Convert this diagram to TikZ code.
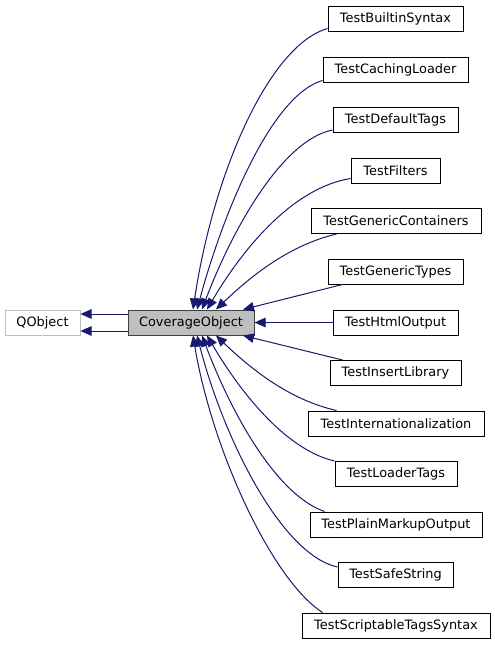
\documentclass[tikz,border=0pt]{standalone}
\usepackage{fontspec}
\setmainfont{DejaVu Sans}
\usetikzlibrary{arrows.meta}
\definecolor{edgecol}{HTML}{191970}
\definecolor{covfill}{HTML}{BFBFBF}
\definecolor{qborder}{HTML}{BFBFBF}
\definecolor{covborder}{HTML}{404040}
\begin{document}
\begin{tikzpicture}[x=1pt,y=-1pt,
  box/.style={draw=black,line width=1pt,fill=white,minimum height=25pt,inner sep=0pt,font=\fontsize{12.9}{15}\selectfont},
  edge/.style={draw=edgecol,line width=1pt,-{Triangle[length=11pt,width=9.5pt]}}]
\useasboundingbox[fill=white] (0,0) rectangle (495,645);
\node[box,draw=qborder,minimum width=75pt] (q) at (42.5,322.5) {QObject};
\node[box,draw=covborder,fill=covfill,minimum width=126pt] (cov) at (191,322.5) {CoverageObject};
\node[box,minimum width=135pt] (b1) at (395.5,18.5) {TestBuiltinSyntax};
\node[box,minimum width=145pt] (b2) at (395.5,69.5) {TestCachingLoader};
\node[box,minimum width=125pt] (b3) at (395.5,120) {TestDefaultTags};
\node[box,minimum width=89pt] (b4) at (395.5,170.5) {TestFilters};
\node[box,minimum width=170pt] (b5) at (396,221) {TestGenericContainers};
\node[box,minimum width=135pt] (b6) at (395.5,271.5) {TestGenericTypes};
\node[box,minimum width=125pt] (b7) at (395.5,322.5) {TestHtmlOutput};
\node[box,minimum width=131pt] (b8) at (395.5,373) {TestInsertLibrary};
\node[box,minimum width=176pt] (b9) at (396,423.5) {TestInternationalization};
\node[box,minimum width=122pt] (b10) at (396,474) {TestLoaderTags};
\node[box,minimum width=172pt] (b11) at (396,524.5) {TestPlainMarkupOutput};
\node[box,minimum width=115pt] (b12) at (395.5,575) {TestSafeString};
\node[box,minimum width=188pt] (b13) at (396,625.5) {TestScriptableTagsSyntax};
% QObject edges
\draw[edge] ([yshift=8.5pt]cov.west) -- ([yshift=8.5pt]q.east);
\draw[edge] ([yshift=-8.5pt]cov.west) -- ([yshift=-8.5pt]q.east);
% top curves
\draw[edge] ([yshift=3pt]b1.south west) .. controls (270,45) and (214,170) .. ([xshift=2pt]cov.north);
\draw[edge] ([yshift=2pt]b2.south west) .. controls (272,95) and (224,210) .. ([xshift=6pt]cov.north);
\draw[edge] ([yshift=3pt]b3.south west) .. controls (282,140) and (232,230) .. ([xshift=11pt]cov.north);
\draw[edge] ([yshift=5pt]b4.south west) .. controls (292,188) and (242,250) .. ([xshift=16pt]cov.north);
\draw[edge] ([xshift=26pt]b5.south west) .. controls (290,245) and (252,275) .. ([xshift=25pt]cov.north);
\draw[edge] ([xshift=15pt]b6.south west) -- ([xshift=52pt]cov.north);
\draw[edge] (b7.west) -- (cov.east);
% bottom curves
\draw[edge] ([xshift=13pt]b8.north west) -- ([xshift=52pt]cov.south);
\draw[edge] ([xshift=29pt]b9.north west) .. controls (290,400) and (252,370) .. ([xshift=25pt]cov.south);
\draw[edge] (b10.north west) .. controls (287,450) and (242,395) .. ([xshift=16pt]cov.south);
\draw[edge] ([xshift=15pt]b11.north west) .. controls (277,495) and (232,415) .. ([xshift=11pt]cov.south);
\draw[edge] ([yshift=-5pt]b12.north west) .. controls (282,555) and (224,440) .. ([xshift=6pt]cov.south);
\draw[edge] ([xshift=21pt]b13.north west) .. controls (272,580) and (212,450) .. ([xshift=2pt]cov.south);
\end{tikzpicture}
\end{document}
